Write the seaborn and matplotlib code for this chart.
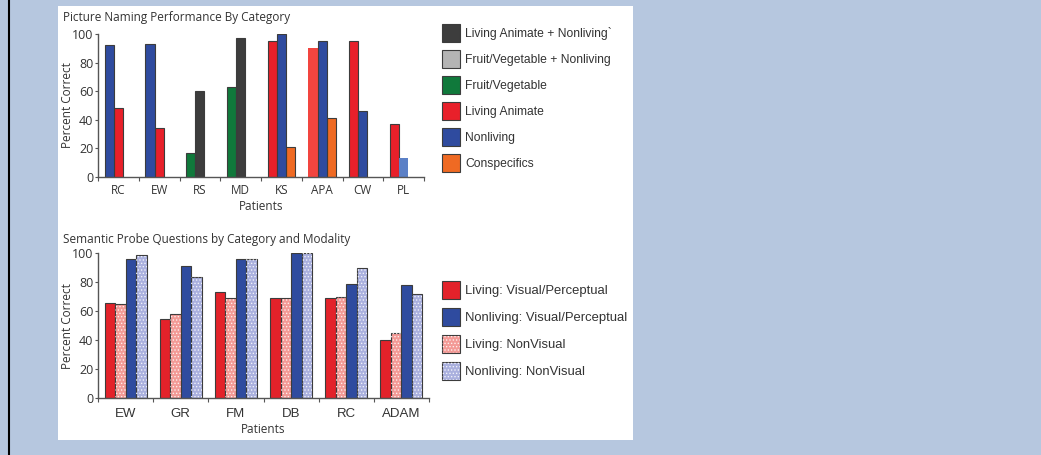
import numpy as np
import pandas as pd
import matplotlib
matplotlib.use("Agg")
import matplotlib.pyplot as plt
import seaborn as sns
from matplotlib.patches import Rectangle, Patch
from matplotlib.lines import Line2D

# ---------------- data: top panel ----------------
top_patients = ["RC", "EW", "RS", "MD", "KS", "APA", "CW", "PL"]
top_bar_patient = ["RC", "RC", "EW", "EW", "RS", "RS", "MD", "MD",
                   "KS", "KS", "KS", "APA", "APA", "APA", "CW", "CW", "PL", "PL"]
top_bar_category = ["Nonliving", "Living Animate",
                    "Nonliving", "Living Animate",
                    "Fruit/Vegetable", "Living Animate + Nonliving",
                    "Fruit/Vegetable", "Living Animate + Nonliving",
                    "Living Animate", "Nonliving", "Conspecifics",
                    "Living Animate", "Nonliving", "Conspecifics",
                    "Living Animate", "Nonliving",
                    "Living Animate", "Nonliving"]
top_bar_value = [92, 48, 93, 34, 17, 60, 63, 97, 95, 100, 21, 90, 95, 41, 95, 46, 37, 13]
top_categories = ["Living Animate + Nonliving", "Fruit/Vegetable + Nonliving",
                  "Fruit/Vegetable", "Living Animate", "Nonliving", "Conspecifics"]
top_legend_labels = ["Living Animate + Nonliving`", "Fruit/Vegetable + Nonliving",
                     "Fruit/Vegetable", "Living Animate", "Nonliving", "Conspecifics"]

# ---------------- data: bottom panel ----------------
bot_patients = ["EW", "GR", "FM", "DB", "RC", "ADAM"]
living_visual = [66, 55, 73, 69, 69, 40]
living_nonvisual = [65, 58, 69, 69, 70, 45]
nonliving_visual = [96, 91, 96, 100, 79, 78]
nonliving_nonvisual = [99, 84, 96, 100, 90, 72]
bot_measures = ["Living: Visual/Perceptual", "Living: NonVisual",
                "Nonliving: Visual/Perceptual", "Nonliving: NonVisual"]
bot_legend_order = ["Living: Visual/Perceptual", "Nonliving: Visual/Perceptual",
                    "Living: NonVisual", "Nonliving: NonVisual"]

# ---------------- styles ----------------
W, H = 1041, 455
BG = "#b6c7df"
TXT = "#333333"
EDGE = "#3c3c3c"
cat_colors = {
    "Living Animate + Nonliving": "#3d3d3d",
    "Fruit/Vegetable + Nonliving": "#b4b4b4",
    "Fruit/Vegetable": "#10793b",
    "Living Animate": "#e8202a",
    "Nonliving": "#2f4b9f",
    "Conspecifics": "#ef6a23",
}
faded_style = {("APA", "Living Animate"): "#f2453f", ("PL", "Nonliving"): "#5b80c6"}
bot_colors = {
    "Living: Visual/Perceptual": "#e3222a",
    "Living: NonVisual": "#f39a96",
    "Nonliving: Visual/Perceptual": "#2f4b9f",
    "Nonliving: NonVisual": "#aab0de",
}
hatched = {"Living: NonVisual", "Nonliving: NonVisual"}

sns.set_theme(style="white")
plt.rcParams["font.family"] = ["Open Sans", "DejaVu Sans"]
plt.rcParams["hatch.linewidth"] = 0.6

fig = plt.figure(figsize=(W / 100, H / 100), dpi=100, facecolor=BG)
fig.patches.append(Rectangle((58 / W, 1 - 440 / H), (633 - 58) / W, (440 - 6) / H,
                             transform=fig.transFigure, facecolor="white",
                             edgecolor="none", zorder=-10))
fig.add_artist(Line2D([8.5 / W, 8.5 / W], [0, 1], color="black", lw=1.5,
                      transform=fig.transFigure, zorder=-5))


def style_axes(ax, xlabel_font, xlabel_size, xpad, width_px):
    for s in ["top", "right"]:
        ax.spines[s].set_visible(False)
    for s in ["left", "bottom"]:
        ax.spines[s].set_color("#555555")
        ax.spines[s].set_linewidth(1.0)
    ax.set_facecolor("none")
    ax.set_ylim(0, 100)
    ax.set_yticks(np.arange(0, 101, 20))
    n = len(ax.get_xticks())
    ax.set_xlim(-0.5, n - 0.5)
    ax.set_xticks(np.arange(-0.5, n, 1.0), minor=True)
    ax.tick_params(axis="x", which="major", length=0, pad=xpad, colors=TXT,
                   labelsize=xlabel_size)
    ax.tick_params(axis="x", which="minor", length=3, width=0.8, color="#555555",
                   direction="out", bottom=True)
    ax.tick_params(axis="y", which="major", length=2.5, width=0.8, color="#555555",
                   direction="out", left=True, labelsize=9, labelcolor=TXT, pad=0.8)
    for lab in ax.get_xticklabels():
        lab.set_family(xlabel_font)
    ax.set_ylabel("Percent Correct", fontsize=8.5, color=TXT)
    ax.yaxis.set_label_coords(-24 / width_px, 0.5)
    ax.set_xlabel("Patients", fontsize=8.5, color=TXT, labelpad=2)
    ax.grid(False)


# ---------------- top panel ----------------
ax1 = fig.add_axes([98 / W, 1 - 177 / H, 326 / W, 143 / H])
df_top = pd.DataFrame({"patient": top_bar_patient, "category": top_bar_category,
                       "value": top_bar_value})
df_top["slot"] = "s" + df_top.groupby("patient", sort=False).cumcount().astype(str)
df_top["faded"] = [(p, c) in faded_style for p, c in zip(df_top.patient, df_top.category)]
slots = ["s0", "s1", "s2"]
for (cat, faded), sub in df_top.groupby(["category", "faded"]):
    if faded:
        color = faded_style[(sub.patient.iloc[0], cat)]
        ec, lw = color, 0.0
    else:
        color, ec, lw = cat_colors[cat], EDGE, 0.8
    sns.barplot(data=sub, x="patient", y="value", hue="slot", hue_order=slots,
                order=top_patients, palette=[color] * 3, width=0.68, dodge=True,
                errorbar=None, legend=False, saturation=1, edgecolor=ec,
                linewidth=lw, ax=ax1)
style_axes(ax1, ["Open Sans", "DejaVu Sans"], 8.5, 5, 326)

fig.text(63 / W, 1 - 18 / H, "Picture Naming Performance By Category", fontsize=8.5,
         color=TXT, ha="left", va="center")

top_handles = [Patch(facecolor=cat_colors[c], edgecolor=EDGE, linewidth=0.8)
               for c in top_categories]
fig.legend(top_handles, top_legend_labels, loc="upper left",
           bbox_to_anchor=(442 / W, 1 - 24 / H), frameon=False, borderpad=0,
           borderaxespad=0, handlelength=1.49, handleheight=1.91, handletextpad=0.41,
           labelspacing=0.66, prop={"family": "Liberation Sans", "size": 8.75},
           labelcolor=TXT)

# ---------------- bottom panel ----------------
ax2 = fig.add_axes([98 / W, 1 - 398.3 / H, 331 / W, 145 / H])
df_bot = pd.DataFrame({
    "patient": np.tile(bot_patients, 4),
    "measure": np.repeat(bot_measures, len(bot_patients)),
    "value": living_visual + living_nonvisual + nonliving_visual + nonliving_nonvisual,
})
sns.barplot(data=df_bot, x="patient", y="value", hue="measure", hue_order=bot_measures,
            order=bot_patients, palette=bot_colors, width=0.76, dodge=True,
            errorbar=None, legend=False, saturation=1, edgecolor=EDGE, linewidth=0.8,
            ax=ax2)
for cont, meas in zip(ax2.containers, bot_measures):
    if meas in hatched:
        for p in cont:
            ax2.add_patch(Rectangle(p.get_xy(), p.get_width(), p.get_height(),
                                    facecolor="none", edgecolor="white", linewidth=0,
                                    hatch=".....", alpha=0.8, zorder=p.get_zorder() + 0.1))
style_axes(ax2, ["Liberation Sans", "DejaVu Sans"], 9.5, 7, 331)

fig.text(63 / W, 1 - 240 / H, "Semantic Probe Questions by Category and Modality",
         fontsize=8.5, color=TXT, ha="left", va="center")

bot_handles = []
for m in bot_legend_order:
    base = Patch(facecolor=bot_colors[m], edgecolor=EDGE, linewidth=0.8)
    if m in hatched:
        over = Patch(facecolor="none", edgecolor="white", linewidth=0, hatch=".....",
                     alpha=0.8)
        bot_handles.append((base, over))
    else:
        bot_handles.append(base)
fig.legend(bot_handles, bot_legend_order, loc="upper left",
           bbox_to_anchor=(442 / W, 1 - 281 / H), frameon=False, borderpad=0,
           borderaxespad=0, handlelength=1.38, handleheight=1.75, handletextpad=0.38,
           labelspacing=0.69, prop={"family": "Liberation Sans", "size": 9.4},
           labelcolor=TXT)

fig.savefig("out.png", dpi=100, facecolor=BG)
